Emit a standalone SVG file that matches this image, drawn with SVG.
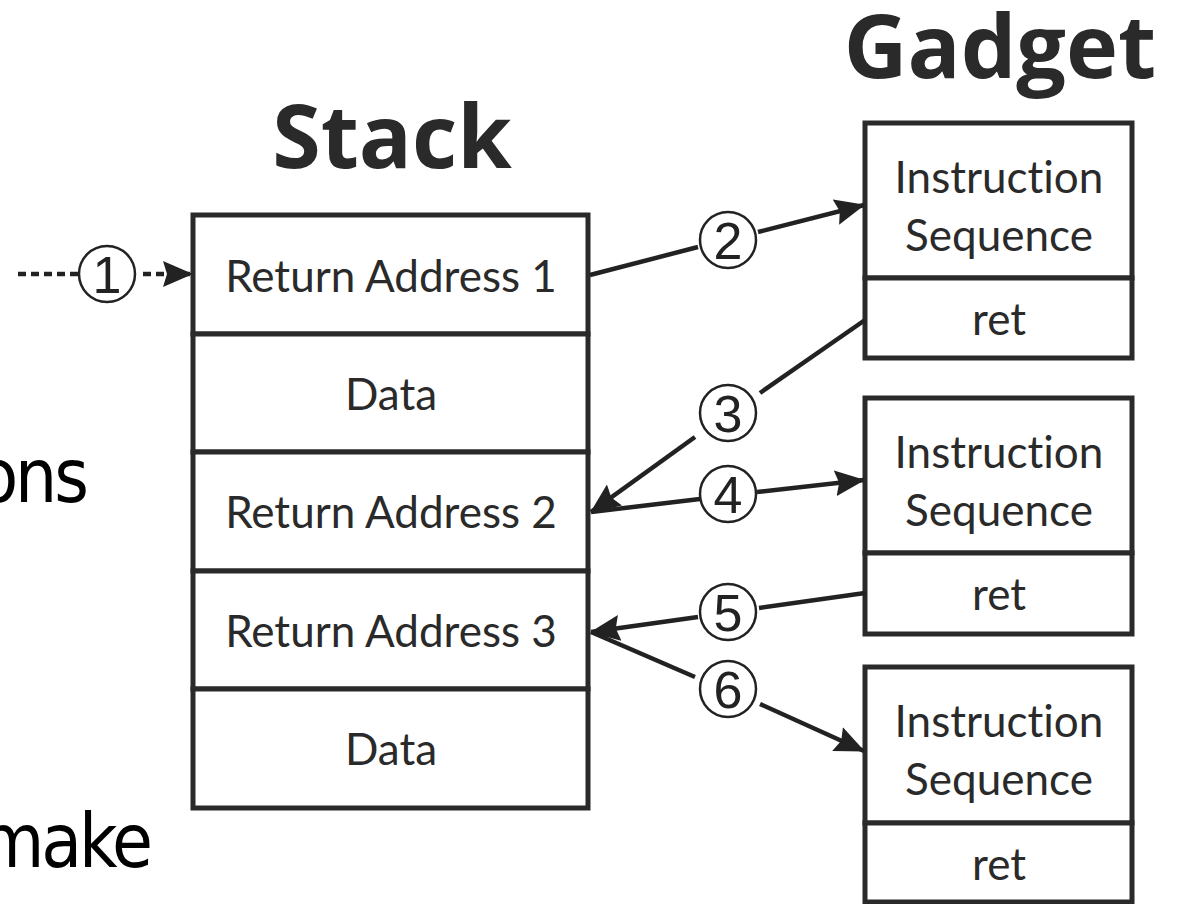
<svg xmlns="http://www.w3.org/2000/svg" width="1184" height="904" viewBox="0 0 1184 904">
<style>
  .cell { fill: #fff; stroke: #2a2a2a; stroke-width: 5; }
  .lbl { font-family: Lato, "Open Sans", sans-serif; font-size: 44px; fill: #2a2a2a; text-anchor: middle; font-variant-ligatures: none; }
  .title { font-family: "Open Sans", sans-serif; font-weight: bold; font-size: 88px; fill: #2a2a2a; text-anchor: middle; }
  .side { font-family: "DejaVu Sans Condensed", "DejaVu Sans", sans-serif; font-stretch: condensed; font-size: 74px; letter-spacing: -3px; fill: #000; text-anchor: end; }
  .conn { fill: none; stroke: #222; stroke-width: 4.5; }
  .dash { fill: none; stroke: #222; stroke-width: 4.5; stroke-dasharray: 8 5; }
  .num circle { fill: #fff; stroke: #222; stroke-width: 2.5; }
  .num text { font-family: "Liberation Sans", Arial, sans-serif; font-size: 52px; fill: #222; text-anchor: middle; }
</style>
<defs>
  <marker id="ah" markerUnits="userSpaceOnUse" markerWidth="30" markerHeight="26" viewBox="0 0 30 26" refX="29" refY="13" orient="auto">
    <path d="M0,0 L30,13 L0,26 L4,13 z" fill="#222"/>
  </marker>
</defs>
<rect width="1184" height="904" fill="#fff"/>

<text class="side" x="86" y="502">ons</text>
<text class="side" x="150" y="867">make</text>

<text class="title" x="392" y="168">Stack</text>
<text class="title" x="1000" y="78">Gadget</text>

<g id="stack-ra1"><rect class="cell" x="193" y="215" width="395" height="119"/><text class="lbl" x="391" y="292">Return Address 1</text></g>
<g id="stack-data1"><rect class="cell" x="193" y="334" width="395" height="118"/><text class="lbl" x="391" y="410">Data</text></g>
<g id="stack-ra2"><rect class="cell" x="193" y="452" width="395" height="119"/><text class="lbl" x="391" y="528">Return Address 2</text></g>
<g id="stack-ra3"><rect class="cell" x="193" y="571" width="395" height="118"/><text class="lbl" x="391" y="647">Return Address 3</text></g>
<g id="stack-data2"><rect class="cell" x="193" y="689" width="395" height="119"/><text class="lbl" x="391" y="765">Data</text></g>

<g id="gadget1">
  <rect class="cell" x="865" y="123" width="267" height="155"/>
  <rect class="cell" x="865" y="278" width="267" height="80"/>
  <text class="lbl" x="999" y="193">Instruction</text>
  <text class="lbl" x="999" y="251">Sequence</text>
  <text class="lbl" x="999" y="335">ret</text>
</g>
<g id="gadget2">
  <rect class="cell" x="865" y="398" width="267" height="155"/>
  <rect class="cell" x="865" y="553" width="267" height="81"/>
  <text class="lbl" x="999" y="468">Instruction</text>
  <text class="lbl" x="999" y="526">Sequence</text>
  <text class="lbl" x="999" y="610">ret</text>
</g>
<g id="gadget3">
  <rect class="cell" x="865" y="667" width="267" height="156"/>
  <rect class="cell" x="865" y="823" width="267" height="79"/>
  <text class="lbl" x="999" y="737">Instruction</text>
  <text class="lbl" x="999" y="795">Sequence</text>
  <text class="lbl" x="999" y="880">ret</text>
</g>

<g id="connectors">
  <line class="dash" x1="18" y1="274" x2="80" y2="274"/>
  <line class="dash" x1="143" y1="274" x2="192" y2="274" marker-end="url(#ah)"/>
  <line class="conn" x1="590" y1="275" x2="698" y2="247"/>
  <line class="conn" x1="758" y1="232" x2="864" y2="205" marker-end="url(#ah)"/>
  <line class="conn" x1="865" y1="320" x2="760" y2="393"/>
  <line class="conn" x1="695" y1="437" x2="591" y2="512" marker-end="url(#ah)"/>
  <line class="conn" x1="591" y1="512" x2="700" y2="499"/>
  <line class="conn" x1="757" y1="492" x2="864" y2="480" marker-end="url(#ah)"/>
  <line class="conn" x1="865" y1="593" x2="759" y2="608"/>
  <line class="conn" x1="698" y1="617" x2="591" y2="632" marker-end="url(#ah)"/>
  <line class="conn" x1="591" y1="632" x2="695" y2="677"/>
  <line class="conn" x1="760" y1="704" x2="864" y2="751" marker-end="url(#ah)"/>
  <g class="num"><circle cx="107" cy="274" r="28"/><text x="107" y="293">1</text></g>
  <g class="num"><circle cx="728" cy="240" r="28"/><text x="728" y="259">2</text></g>
  <g class="num"><circle cx="728" cy="413" r="28"/><text x="728" y="432">3</text></g>
  <g class="num"><circle cx="728" cy="494" r="28"/><text x="728" y="513">4</text></g>
  <g class="num"><circle cx="728" cy="612" r="28"/><text x="728" y="631">5</text></g>
  <g class="num"><circle cx="728" cy="689" r="28"/><text x="728" y="708">6</text></g>
</g>
</svg>
